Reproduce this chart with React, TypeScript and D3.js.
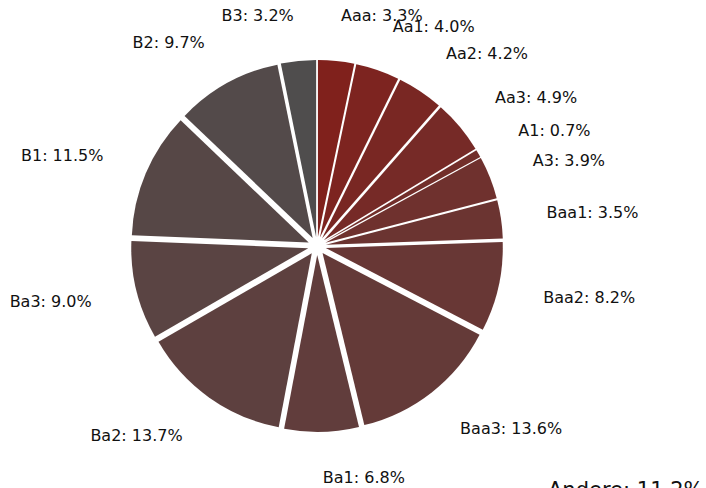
import * as d3 from "d3";

// rating categories, clockwise from 12 o'clock
const categories = ["Aaa", "Aa1", "Aa2", "Aa3", "A1", "A3", "Baa1", "Baa2", "Baa3", "Ba1", "Ba2", "Ba3", "B1", "B2", "B3"];
const shares = [3.3, 4.0, 4.2, 4.9, 0.7, 3.9, 3.5, 8.2, 13.6, 6.8, 13.7, 9.0, 11.5, 9.7, 3.2];
const otherLabel = "Andere: 11.2%";

const width = 706;
const height = 488;
const cx = 317;
const cy = 246;
const radius = 177;
const explode = 9;
const labelRadius = 223;

const App = () => {
    const data = categories.map((c, i) => ({ label: c, value: shares[i] }));

    const pie = d3
        .pie<{ label: string; value: number }>()
        .value((d) => d.value)
        .sort(null)
        .startAngle(0)
        .endAngle(2 * Math.PI);

    const arcs = pie(data);
    const arc = d3.arc<d3.PieArcDatum<any>>().innerRadius(0).outerRadius(radius);

    // red -> grey ramp across the slices
    const color = d3
        .scaleLinear<string>()
        .domain([0, categories.length - 1])
        .range(["#80211c", "#4f4d4d"])
        .interpolate(d3.interpolateRgb);

    return (
        <svg
            width={width}
            height={height}
            viewBox={`0 0 ${width} ${height}`}
            style={{ position: "absolute", left: 0, top: 0, background: "#fff" }}
            fontFamily="DejaVu Sans"
        >
            <g transform={`translate(${cx},${cy})`}>
                {arcs.map((a, i) => {
                    const mid = (a.startAngle + a.endAngle) / 2;
                    const ox = explode * Math.sin(mid);
                    const oy = -explode * Math.cos(mid);
                    const lx = ox + labelRadius * Math.sin(mid);
                    const ly = oy - labelRadius * Math.cos(mid);
                    const anchor = Math.abs(lx) < 0.5 ? "middle" : lx > 0 ? "start" : "end";
                    return (
                        <g key={i}>
                            <path
                                d={arc(a) as string}
                                transform={`translate(${ox},${oy})`}
                                fill={color(i)}
                            />
                            <text
                                x={lx}
                                y={ly}
                                textAnchor={anchor}
                                dominantBaseline="central"
                                fontSize={16}
                                fill="#111"
                            >
                                {`${a.data.label}: ${a.data.value.toFixed(1)}%`}
                            </text>
                        </g>
                    );
                })}
            </g>
            <text x={548} y={497} fontSize={21} fill="#111">
                {otherLabel}
            </text>
        </svg>
    );
};

export default App;
